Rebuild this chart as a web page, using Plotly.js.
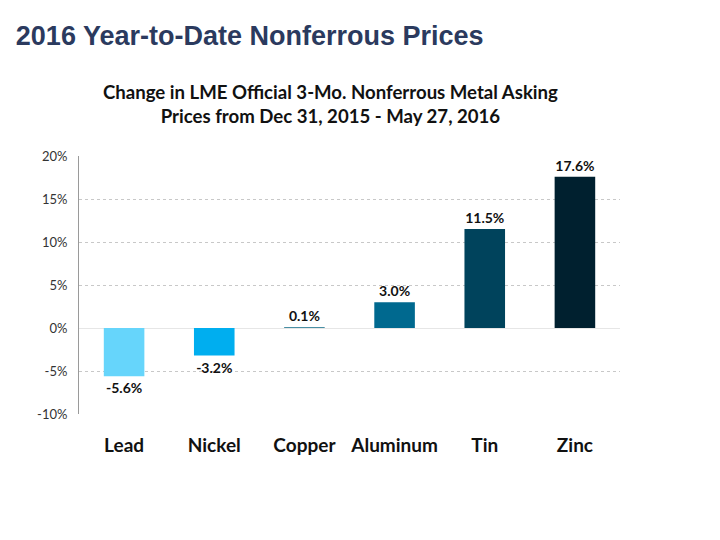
<!DOCTYPE html>
<html><head><meta charset="utf-8">
<script src="https://cdn.plot.ly/plotly-3.0.1.min.js"></script>
<style>html,body{margin:0;padding:0;background:#fff;}#chart{width:720px;height:540px;}</style>
</head><body><div id="chart"></div>
<script>
const metals = ["Lead", "Nickel", "Copper", "Aluminum", "Tin", "Zinc"];
const changePct = [-5.6, -3.2, 0.1, 3.0, 11.5, 17.6];
const barColors = ["#66D5FB", "#00AEEF", "#0C6A86", "#00698F", "#00435C", "#00202F"];
const yTicks = [-10, -5, 0, 5, 10, 15, 20];

const trace = {
  type: "bar",
  x: metals,
  y: changePct,
  marker: {color: barColors, line: {width: 0}},
  text: changePct.map(v => v.toFixed(1) + "%"),
  textposition: "outside",
  cliponaxis: false,
  textfont: {family: "Lato, 'Open Sans', sans-serif", size: 14, color: "#111", weight: 700},
  hoverinfo: "skip"
};

const layout = {
  width: 720, height: 540,
  paper_bgcolor: "#fff", plot_bgcolor: "#fff",
  margin: {l: 79, r: 100, t: 156, b: 126},
  bargap: 0.55,
  showlegend: false,
  font: {family: "Lato, 'Open Sans', sans-serif"},
  xaxis: {
    type: "category",
    showline: false, showgrid: false, zeroline: false,
    ticks: "", ticklabelstandoff: 18,
    tickfont: {family: "Lato, 'Open Sans', sans-serif", size: 19, color: "#111", weight: 700}
  },
  yaxis: {
    range: [-10, 20],
    tickvals: yTicks,
    ticktext: yTicks.map(v => v + "%"),
    showline: true, linecolor: "#9a9a9a", linewidth: 1,
    showgrid: true, gridcolor: "#c8c8c8", griddash: "dot", gridwidth: 1,
    zeroline: true, zerolinecolor: "#e6e6e6", zerolinewidth: 1,
    ticks: "", ticklabelstandoff: 8,
    tickfont: {family: "Lato, 'Open Sans', sans-serif", size: 13, color: "#333"}
  },
  annotations: [
    {xref: "paper", yref: "paper", x: 0.465, y: 1.0, yshift: 52, xanchor: "center", yanchor: "middle",
     showarrow: false, align: "center",
     text: "Change in LME Official 3-Mo. Nonferrous Metal Asking<br>Prices from Dec 31, 2015 - May 27, 2016",
     font: {family: "Lato, 'Open Sans', sans-serif", size: 18.6, color: "#111", weight: 700}}
  ],
  title: {
    text: "2016 Year-to-Date Nonferrous Prices",
    x: 0.022, xanchor: "left", xref: "container", y: 0.935, yanchor: "middle", yref: "container",
    font: {family: "Arial, 'Liberation Sans', sans-serif", size: 27, color: "#2B3A5E", weight: 700}
  }
};

Plotly.newPlot("chart", [trace], layout, {displayModeBar: false, staticPlot: true});
</script>
</body></html>
